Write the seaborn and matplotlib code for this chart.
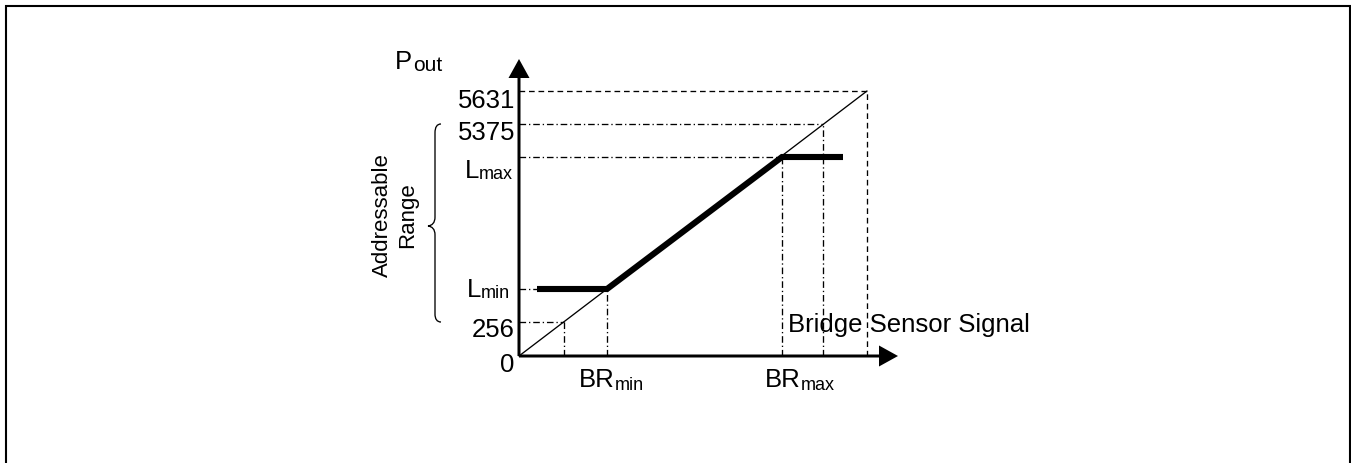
import matplotlib
matplotlib.use("Agg")
import matplotlib.pyplot as plt
from matplotlib.path import Path
from matplotlib.patches import PathPatch, Rectangle
import seaborn as sns

# schematic transfer curve (diagram units, origin at the axis corner)
level_labels = ['256', 'Lmin', 'Lmax', '5375', '5631']
level_y = [34, 67, 199, 232, 265]          # output levels on P_out axis
level_x = [45, 88, 263, 304, 348]          # where the ideal line meets each level
level_style = ['dashdot', 'dashdot', 'dashdot', 'dashdot', 'dashed']

ideal_x = [0, 348]
ideal_y = [0, 265]

clamp_x = [18, 88, 263, 324]               # clamped output (thick curve)
clamp_y = [67, 67, 199, 199]

W, H = 1351, 464
X0, Y0 = 519, 357                          # pixel position of the origin

sns.set_style('white')
plt.rcParams['font.family'] = ['Liberation Sans', 'DejaVu Sans']
plt.rcParams['text.color'] = 'black'

fig = plt.figure(figsize=(W / 100, H / 100), dpi=100)
ax = fig.add_axes([X0 / W, (H - Y0) / H, 381 / W, 300 / H])
ax.set_xlim(0, 381)
ax.set_ylim(0, 300)
ax.axis('off')


def px(x, y):
    # pixel position in the picture -> diagram units
    return x - X0, Y0 - y


dash = {'dashed': (0, (4.3, 2.9)), 'dashdot': (0, (5, 2.2, 1, 2.2))}

# guide lines
for lx, ly, st in zip(level_x, level_y, level_style):
    ax.hlines(ly, 0, lx, colors='black', linewidth=0.95, linestyles=[dash[st]], clip_on=False)
    ax.vlines(lx, 0, ly, colors='black', linewidth=0.95, linestyles=[dash[st]], clip_on=False)

# ideal line and clamped output
sns.lineplot(x=ideal_x, y=ideal_y, ax=ax, color='black', linewidth=0.95,
             estimator=None, sort=False)
sns.lineplot(x=clamp_x, y=clamp_y, ax=ax, color='black', linewidth=4.4,
             estimator=None, sort=False, solid_joinstyle='miter', solid_capstyle='butt')
for ln in ax.lines:
    ln.set_clip_on(False)

# axes with arrow heads
ax.arrow(0, 0, 379, 0, width=3, head_width=21, head_length=19,
         length_includes_head=True, fc='black', ec='black', lw=0, clip_on=False)
ax.arrow(0, 0, 0, 297, width=3, head_width=21, head_length=19,
         length_includes_head=True, fc='black', ec='black', lw=0, clip_on=False)

big = 18.5
small = 13

# level labels on the y axis
plain = {'5631': (515, 108), '5375': (515, 140), '256': (515, 337), '0': (514, 372)}
for txt, (x, y) in plain.items():
    ax.text(*px(x, y), txt, ha='right', va='baseline', fontsize=big, clip_on=False)

for main, sub, (x, y) in [('L', 'max', (513, 179)), ('L', 'min', (510, 298))]:
    s = ax.text(*px(x, y), sub, ha='right', va='baseline', fontsize=small)
    ax.annotate(main, xy=(0, 0), xycoords=s, ha='right', va='bottom', fontsize=big)

# P_out title
p = ax.text(*px(395, 69), 'P', ha='left', va='baseline', fontsize=big)
ax.annotate('out', xy=(1, 0), xycoords=p, xytext=(1, -0.5), textcoords='offset points',
            ha='left', va='bottom', fontsize=15)

# BR labels under the x axis
for (x, y), sub in [((579, 387), 'min'), ((765, 387), 'max')]:
    b = ax.text(*px(x, y), 'BR', ha='left', va='baseline', fontsize=big)
    ax.annotate(sub, xy=(1, 0), xycoords=b, xytext=(0, -1.8), textcoords='offset points',
                ha='left', va='bottom', fontsize=small)

ax.text(*px(788, 332), 'Bridge Sensor Signal', ha='left', va='baseline', fontsize=big)

# addressable range brace and label
ax.text(*px(388, 215), 'Addressable', rotation=90, rotation_mode='anchor',
        ha='center', va='baseline', fontsize=16)
ax.text(*px(413, 215), 'Range', rotation=90, rotation_mode='anchor',
        ha='center', va='baseline', fontsize=16)

brace_pts = [(441, 125), (437, 125), (435, 128), (435, 134), (435, 218),
             (435, 224), (432, 226.5), (428, 227), (432, 227.5), (435, 230),
             (435, 236), (435, 315), (435, 320), (437, 323), (441, 323)]
codes = [Path.MOVETO, Path.CURVE4, Path.CURVE4, Path.CURVE4, Path.LINETO,
         Path.CURVE4, Path.CURVE4, Path.CURVE4, Path.CURVE4, Path.CURVE4,
         Path.CURVE4, Path.LINETO, Path.CURVE4, Path.CURVE4, Path.CURVE4]
brace = PathPatch(Path([px(x, y) for x, y in brace_pts], codes), fill=False,
                  lw=0.95, ec='black', clip_on=False)
ax.add_patch(brace)

# outer frame
fig.add_artist(Rectangle((6 / W, -0.05), 1344 / W, (H - 7) / H + 0.05,
                         transform=fig.transFigure, fill=False, lw=1.5, ec='black'))

fig.savefig('out.png', dpi=100)
